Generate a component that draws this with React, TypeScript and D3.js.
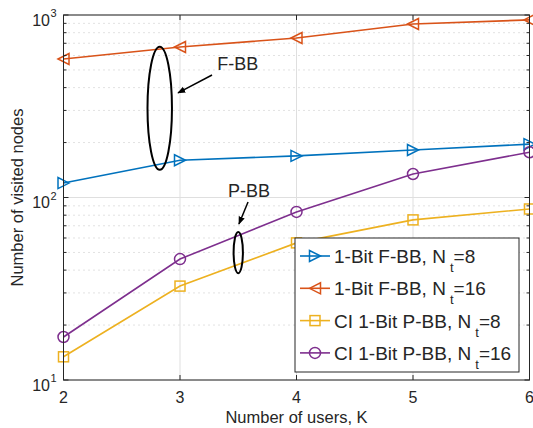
import React from "react";
import * as d3 from "d3";

// users K
const users = [2, 3, 4, 5, 6];
// number of visited nodes
const fbb8 = [120, 160, 169, 182, 196];
const fbb16 = [574, 668, 748, 893, 940];
const pbb8 = [13.4, 32.7, 56.4, 75.4, 86.5];
const pbb16 = [17.2, 46, 83.4, 134.5, 177];

const seriesNames = [
  { label: "1-Bit F-BB, N", sub: "t", tail: "=8" },
  { label: "1-Bit F-BB, N", sub: "t", tail: "=16" },
  { label: "CI 1-Bit P-BB, N", sub: "t", tail: "=8" },
  { label: "CI 1-Bit P-BB, N", sub: "t", tail: "=16" },
];
const seriesValues = [fbb8, fbb16, pbb8, pbb16];
const colors = ["#0072BD", "#D95319", "#EDB120", "#7E2F8E"];
const markers = ["right", "left", "square", "circle"];

const xTicks = [2, 3, 4, 5, 6];
const yMajor = [10, 100, 1000];
const yExp = ["1", "2", "3"];

const W = 533;
const H = 428;
const font = "'Liberation Sans', Arial, Helvetica, sans-serif";
const ink = "#262626";

function Marker({ kind, x, y, color }: { kind: string; x: number; y: number; color: string }) {
  const s = 5.5;
  if (kind === "circle")
    return <circle cx={x} cy={y} r={s} fill="none" stroke={color} strokeWidth={1.5} />;
  if (kind === "square")
    return <rect x={x - s + 0.5} y={y - s + 0.5} width={2 * s - 1} height={2 * s - 1} fill="none" stroke={color} strokeWidth={1.5} />;
  const pts =
    kind === "right"
      ? [[x + s, y], [x - s, y - s], [x - s, y + s]]
      : [[x - s, y], [x + s, y - s], [x + s, y + s]];
  return <polygon points={pts.map((p) => p.join(",")).join(" ")} fill="none" stroke={color} strokeWidth={1.5} />;
}

export default function App() {
  const x = d3.scaleLinear().domain([2, 6]).range([63.5, 529.5]);
  const y = d3.scaleLog().domain([10, 1000]).range([380, 15]);
  const [x0, x1] = x.range();
  const [yb, yt] = y.range();

  const yMinor: number[] = [];
  [10, 100].forEach((d) => {
    for (let k = 2; k <= 9; k++) yMinor.push(d * k);
  });

  const line = d3
    .line<number>()
    .x((_, i) => x(users[i]))
    .y((d) => y(d));

  // annotation positions in data coordinates
  const ellF = { cx: 2.826, top: 670, bottom: 142, hw: 0.105 };
  const ellP = { cx: 3.5, top: 64.7, bottom: 38.5, hw: 0.04 };
  const arrows = [
    { from: [3.275, 469], to: [2.983, 374] },
    { from: [3.584, 94.4], to: [3.506, 71.6] },
  ];
  const notes = [
    { text: "F-BB", at: [3.319, 500] },
    { text: "P-BB", at: [3.412, 100.6] },
  ];

  const legX = 295;
  const legY = 238;
  const legW = 224;
  const legH = 134;
  const rowH = 32.3;

  return (
    <svg width={W} height={H} style={{ position: "absolute", left: 0, top: 0, background: "#fff" }} fontFamily={font}>
      <defs>
        <marker id="ah" viewBox="0 0 10 10" refX="9" refY="5" markerWidth="8" markerHeight="8" orient="auto" markerUnits="userSpaceOnUse">
          <path d="M0,1 L10,5 L0,9 Z" fill="#000" />
        </marker>
      </defs>
      <rect x={x0} y={yt} width={x1 - x0} height={yb - yt} fill="#fff" />
      {/* minor grid */}
      {yMinor.map((d) => (
        <line key={"mg" + d} x1={x0} x2={x1} y1={y(d)} y2={y(d)} stroke="#c4c4c4" strokeWidth={1} strokeDasharray="1,4" />
      ))}
      {/* major grid */}
      {yMajor.map((d) => (
        <line key={"gy" + d} x1={x0} x2={x1} y1={y(d)} y2={y(d)} stroke="#dfdfdf" strokeWidth={1} />
      ))}
      {xTicks.map((d) => (
        <line key={"gx" + d} x1={x(d)} x2={x(d)} y1={yt} y2={yb} stroke="#dfdfdf" strokeWidth={1} />
      ))}

      {/* series */}
      {seriesValues.map((vals, si) => (
        <g key={"s" + si}>
          <path d={line(vals) || ""} fill="none" stroke={colors[si]} strokeWidth={1.6} />
          {vals.map((v, i) => (
            <Marker key={i} kind={markers[si]} x={x(users[i])} y={y(v)} color={colors[si]} />
          ))}
        </g>
      ))}

      {/* annotations */}
      {[ellF, ellP].map((e, i) => (
        <ellipse
          key={"e" + i}
          cx={x(e.cx)}
          cy={(y(e.top) + y(e.bottom)) / 2}
          rx={x(e.cx + e.hw) - x(e.cx)}
          ry={(y(e.bottom) - y(e.top)) / 2}
          fill="none"
          stroke="#000"
          strokeWidth={2}
        />
      ))}
      {arrows.map((a, i) => (
        <line key={"a" + i} x1={x(a.from[0])} y1={y(a.from[1])} x2={x(a.to[0])} y2={y(a.to[1])} stroke="#000" strokeWidth={1.5} markerEnd="url(#ah)" />
      ))}
      {notes.map((n, i) => (
        <text key={"n" + i} x={x(n.at[0])} y={y(n.at[1])} fontSize={18} fill={ink}>
          {n.text}
        </text>
      ))}

      {/* ticks inside */}
      {xTicks.map((d) => (
        <g key={"tx" + d}>
          <line x1={x(d)} x2={x(d)} y1={yb} y2={yb - 5} stroke={ink} />
          <line x1={x(d)} x2={x(d)} y1={yt} y2={yt + 5} stroke={ink} />
          <text x={x(d)} y={403} textAnchor="middle" fontSize={16} fill={ink}>
            {d}
          </text>
        </g>
      ))}
      {yMajor.map((d, i) => (
        <g key={"ty" + d}>
          <line x1={x0} x2={x0 + 5} y1={y(d)} y2={y(d)} stroke={ink} />
          <line x1={x1} x2={x1 - 5} y1={y(d)} y2={y(d)} stroke={ink} />
          <text x={50} y={y(d) + 10.5} textAnchor="end" fontSize={16} fill={ink}>
            10
          </text>
          <text x={50.5} y={y(d) + 2} fontSize={11} fill={ink}>
            {yExp[i]}
          </text>
        </g>
      ))}
      {yMinor.map((d) => (
        <g key={"tm" + d}>
          <line x1={x0} x2={x0 + 3} y1={y(d)} y2={y(d)} stroke={ink} />
          <line x1={x1} x2={x1 - 3} y1={y(d)} y2={y(d)} stroke={ink} />
        </g>
      ))}
      <rect x={x0} y={yt} width={x1 - x0} height={yb - yt} fill="none" stroke={ink} strokeWidth={1} />

      {/* axis labels */}
      <text x={(x0 + x1) / 2} y={423} textAnchor="middle" fontSize={16.5} fill={ink}>
        Number of users, K
      </text>
      <text transform={`translate(23,${(yt + yb) / 2}) rotate(-90)`} textAnchor="middle" fontSize={16.5} fill={ink}>
        Number of visited nodes
      </text>

      {/* legend */}
      <rect x={legX} y={legY} width={legW} height={legH} fill="#fff" stroke={ink} strokeWidth={1} />
      {seriesNames.map((s, i) => {
        const cy = legY + 18 + i * rowH;
        return (
          <g key={"l" + i}>
            <line x1={legX + 5} x2={legX + 35} y1={cy} y2={cy} stroke={colors[i]} strokeWidth={1.6} />
            <Marker kind={markers[i]} x={legX + 20} y={cy} color={colors[i]} />
            <text x={legX + 39} y={cy + 7} fontSize={19} fill={ink}>
              {s.label}
              <tspan dx={4} dy={9} fontSize={13}>
                {s.sub}
              </tspan>
              <tspan dy={-9} fontSize={19}>
                {s.tail}
              </tspan>
            </text>
          </g>
        );
      })}
    </svg>
  );
}
